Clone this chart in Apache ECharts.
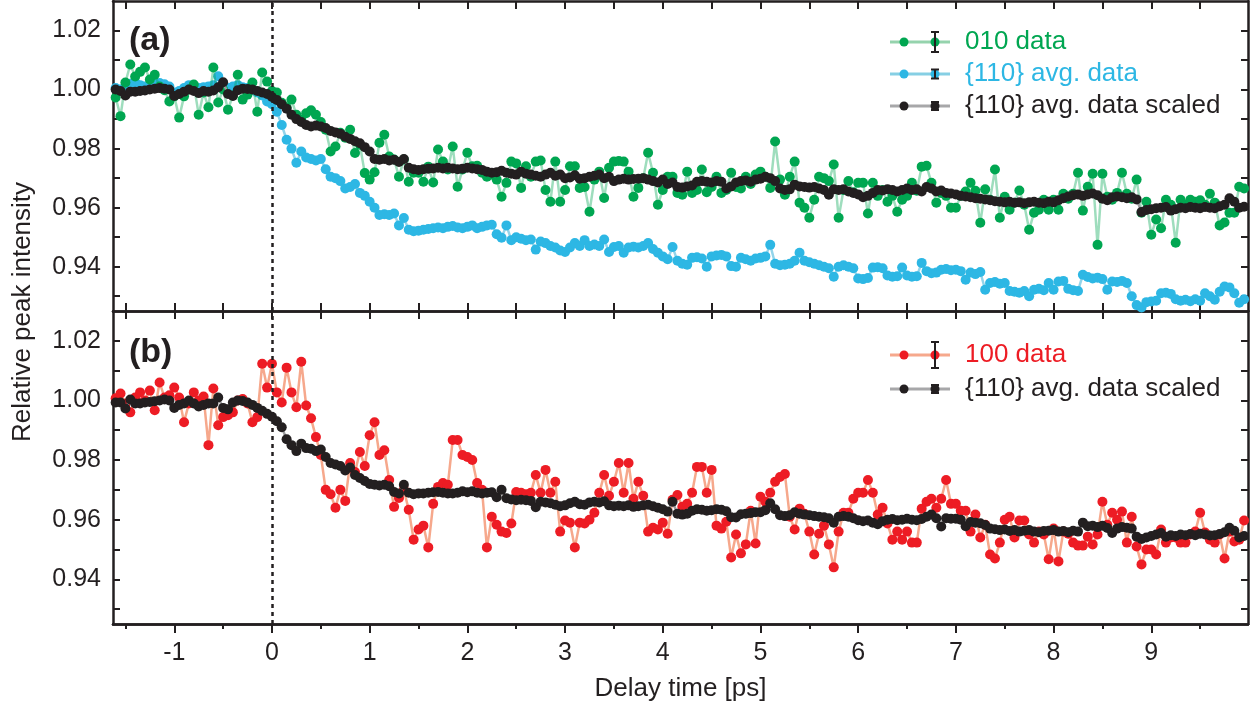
<!DOCTYPE html>
<html><head><meta charset="utf-8">
<script src="https://cdn.jsdelivr.net/npm/echarts@6/dist/echarts.min.js"></script>
<style>html,body{margin:0;padding:0;background:#fff}#c{width:1258px;height:708px}</style>
</head><body><div id="c"></div><script>
// time grid: first delay and step (ps)
const T0 = -1.6, DT = 0.05;
const xLabelTicks = [-1,0,1,2,3,4,5,6,7,8,9];
const xMinorTicks = [-1.5,-0.5,0.5,1.5,2.5,3.5,4.5,5.5,6.5,7.5,8.5,9.5];
const xAllTicks = [-1.5,-1,-0.5,0,0.5,1,1.5,2,2.5,3,3.5,4,4.5,5,5.5,6,6.5,7,7.5,8,8.5,9,9.5];
const yTicks = [0.93,0.94,0.95,0.96,0.97,0.98,0.99,1.00,1.01,1.02];
const yLabels = [0.94,0.96,0.98,1.00,1.02];

// panel (a)
const green010 = [
0.9973,0.9910,1.0024,1.0085,1.0044,1.0060,1.0075,1.0034,1.0050,1.0010,0.9998,0.9960,
0.9977,0.9905,0.9977,1.0000,1.0017,0.9915,0.9990,0.9940,1.0075,0.9956,1.0000,0.9932,0.9980,1.0050,0.9966,0.9983,1.0024,0.9925,1.0058,1.0027,
0.9995,0.9990,0.9955,0.9940,0.9966,0.9915,0.9898,0.9920,0.9930,0.9915,0.9890,0.9864,0.9790,0.9807,0.9854,0.9837,0.9864,0.9785,0.9813,0.9717,
0.9695,0.9720,0.9820,0.9847,0.9773,0.9763,0.9705,0.9763,0.9688,0.9718,0.9718,0.9688,0.9739,0.9685,0.9797,0.9756,0.9729,0.9807,0.9671,0.9729,
0.9786,0.9740,0.9742,0.9718,0.9705,0.9712,0.9695,0.9637,0.9684,0.9756,0.9750,0.9667,0.9740,0.9705,0.9756,0.9760,0.9660,0.9620,0.9756,0.9620,
0.9660,0.9740,0.9740,0.9667,0.9670,0.9586,0.9695,0.9722,0.9633,0.9735,0.9756,0.9758,0.9756,0.9722,0.9637,0.9667,0.9700,0.9786,0.9718,0.9610,
0.9660,0.9705,0.9705,0.9650,0.9644,0.9722,0.9650,0.9660,0.9729,0.9652,0.9670,0.9705,0.9650,0.9660,0.9718,0.9670,0.9665,0.9705,0.9680,0.9712,
0.9722,0.9705,0.9667,0.9824,0.9695,0.9644,0.9705,0.9756,0.9617,0.9600,0.9566,0.9627,0.9705,0.9700,0.9690,0.9746,0.9566,0.9660,0.9690,0.9652,
0.9684,0.9684,0.9580,0.9684,0.9640,0.9660,0.9620,0.9640,0.9586,0.9627,0.9640,0.9684,0.9657,0.9739,0.9742,0.9684,0.9617,0.9650,0.9640,0.9600,
0.9600,0.9640,0.9655,0.9684,0.9657,0.9549,0.9662,0.9627,0.9729,0.9566,0.9637,0.9593,0.9617,0.9658,0.9610,0.9525,0.9583,0.9593,0.9627,0.9593,
0.9627,0.9593,0.9647,0.9630,0.9647,0.9718,0.9590,0.9671,0.9715,0.9474,0.9715,0.9637,0.9627,0.9650,0.9718,0.9647,0.9630,0.9695,0.9583,0.9620,
0.9508,0.9560,0.9530,0.9627,0.9610,0.9481,0.9627,0.9610,0.9627,0.9620,0.9625,0.9610,0.9647,0.9617,0.9540,0.9550,0.9583,0.9583,0.9671,0.9665
];
const blue110 = [
1.0005,1.0000,1.0010,1.0020,1.0025,1.0015,1.0010,1.0015,1.0020,1.0022,1.0018,1.0010,
0.9990,0.9995,1.0005,1.0015,1.0012,1.0005,1.0008,1.0010,1.0015,1.0045,1.0020,1.0005,1.0010,1.0015,1.0008,1.0005,1.0000,0.9990,0.9980,0.9960,
0.9950,0.9925,0.9880,0.9830,0.9800,0.9752,0.9790,0.9770,0.9765,0.9760,0.9765,0.9730,0.9705,0.9700,0.9690,0.9665,0.9670,0.9680,0.9650,0.9640,
0.9620,0.9600,0.9575,0.9578,0.9575,0.9580,0.9540,0.9565,0.9525,0.9520,0.9522,0.9525,0.9528,0.9530,0.9533,0.9530,0.9535,0.9538,0.9533,0.9530,
0.9535,0.9540,0.9530,0.9535,0.9540,0.9542,0.9510,0.9498,0.9540,0.9490,0.9500,0.9495,0.9490,0.9492,0.9458,0.9485,0.9480,0.9470,0.9465,0.9455,
0.9450,0.9465,0.9480,0.9470,0.9490,0.9470,0.9475,0.9470,0.9492,0.9450,0.9467,0.9470,0.9447,0.9465,0.9468,0.9465,0.9470,0.9480,0.9460,0.9447,
0.9435,0.9425,0.9467,0.9420,0.9410,0.9407,0.9430,0.9432,0.9428,0.9400,0.9435,0.9438,0.9440,0.9435,0.9402,0.9400,0.9430,0.9425,0.9420,0.9428,
0.9430,0.9435,0.9474,0.9410,0.9405,0.9407,0.9410,0.9420,0.9447,0.9420,0.9415,0.9410,0.9405,0.9400,0.9395,0.9366,0.9400,0.9405,0.9400,0.9395,
0.9360,0.9358,0.9362,0.9397,0.9398,0.9395,0.9370,0.9366,0.9368,0.9397,0.9370,0.9366,0.9368,0.9413,0.9385,0.9378,0.9380,0.9390,0.9392,0.9388,
0.9390,0.9385,0.9356,0.9380,0.9375,0.9382,0.9322,0.9345,0.9348,0.9342,0.9345,0.9318,0.9315,0.9312,0.9318,0.9300,0.9322,0.9325,0.9320,0.9345,
0.9322,0.9350,0.9352,0.9325,0.9320,0.9318,0.9373,0.9365,0.9360,0.9363,0.9358,0.9322,0.9350,0.9348,0.9352,0.9345,0.9300,0.9270,0.9262,0.9280,
0.9282,0.9285,0.9310,0.9312,0.9308,0.9290,0.9285,0.9288,0.9283,0.9290,0.9285,0.9310,0.9300,0.9288,0.9315,0.9333,0.9330,0.9310,0.9278,0.9290
];
const black110a = [
1.0000,0.9995,0.9980,0.9993,0.9993,0.9995,0.9997,1.0000,1.0003,1.0005,1.0003,1.0000,
0.9978,0.9985,0.9993,1.0000,0.9995,0.9988,0.9995,0.9993,0.9997,1.0008,1.0025,0.9985,0.9978,0.9998,1.0003,1.0002,1.0000,0.9995,0.9990,0.9985,
0.9975,0.9965,0.9950,0.9935,0.9915,0.9900,0.9890,0.9880,0.9875,0.9878,0.9875,0.9870,0.9860,0.9855,0.9850,0.9840,0.9833,0.9825,0.9818,0.9805,
0.9790,0.9765,0.9762,0.9765,0.9760,0.9762,0.9755,0.9765,0.9735,0.9730,0.9728,0.9730,0.9732,0.9733,0.9735,0.9733,0.9735,0.9733,0.9730,0.9732,
0.9735,0.9733,0.9730,0.9728,0.9722,0.9718,0.9720,0.9725,0.9718,0.9715,0.9712,0.9722,0.9715,0.9712,0.9708,0.9705,0.9712,0.9718,0.9708,0.9712,
0.9700,0.9702,0.9710,0.9698,0.9700,0.9705,0.9708,0.9712,0.9700,0.9705,0.9690,0.9695,0.9698,0.9695,0.9697,0.9698,0.9700,0.9695,0.9690,0.9685,
0.9695,0.9680,0.9685,0.9670,0.9668,0.9672,0.9675,0.9688,0.9690,0.9688,0.9685,0.9690,0.9688,0.9665,0.9672,0.9685,0.9690,0.9692,0.9688,0.9695,
0.9698,0.9705,0.9700,0.9690,0.9665,0.9660,0.9662,0.9678,0.9672,0.9670,0.9668,0.9670,0.9665,0.9660,0.9644,0.9662,0.9660,0.9662,0.9655,0.9650,
0.9645,0.9635,0.9640,0.9650,0.9660,0.9658,0.9662,0.9660,0.9655,0.9660,0.9665,0.9660,0.9662,0.9655,0.9670,0.9665,0.9655,0.9658,0.9650,0.9648,
0.9645,0.9640,0.9638,0.9635,0.9632,0.9630,0.9628,0.9625,0.9622,0.9620,0.9618,0.9620,0.9617,0.9618,0.9615,0.9618,0.9620,0.9617,0.9615,0.9620,
0.9618,0.9625,0.9632,0.9638,0.9642,0.9645,0.9640,0.9645,0.9648,0.9642,0.9630,0.9625,0.9635,0.9638,0.9635,0.9632,0.9635,0.9628,0.9585,0.9592,
0.9595,0.9598,0.9600,0.9602,0.9590,0.9595,0.9600,0.9598,0.9602,0.9600,0.9598,0.9602,0.9600,0.9598,0.9605,0.9610,0.9632,0.9620,0.9600,0.9603
];
// panel (b)
const red100 = [
1.0007,1.0023,0.9990,0.9960,1.0010,1.0027,1.0000,1.0033,0.9967,1.0060,1.0010,1.0017,
1.0043,1.0010,0.9927,0.9990,1.0027,1.0000,1.0013,0.9850,1.0040,0.9917,0.9944,0.9950,0.9960,1.0000,1.0005,0.9990,0.9927,0.9944,1.0123,1.0043,
1.0123,1.0027,0.9993,1.0110,1.0027,0.9977,1.0130,0.9983,0.9940,0.9877,0.9817,0.9700,0.9685,0.9640,0.9700,0.9663,0.9790,0.9760,0.9827,0.9780,
0.9883,0.9927,0.9817,0.9833,0.9733,0.9643,0.9673,0.9700,0.9633,0.9533,0.9567,0.9580,0.9507,0.9653,0.9710,0.9723,0.9717,0.9867,0.9867,0.9817,
0.9810,0.9800,0.9723,0.9700,0.9507,0.9610,0.9583,0.9560,0.9555,0.9587,0.9693,0.9690,0.9685,0.9690,0.9750,0.9690,0.9767,0.9690,0.9727,0.9560,
0.9597,0.9590,0.9507,0.9590,0.9587,0.9600,0.9623,0.9690,0.9750,0.9680,0.9727,0.9790,0.9690,0.9790,0.9670,0.9727,0.9680,0.9560,0.9573,0.9567,
0.9590,0.9553,0.9667,0.9683,0.9643,0.9653,0.9690,0.9777,0.9777,0.9690,0.9767,0.9580,0.9570,0.9593,0.9473,0.9550,0.9487,0.9517,0.9630,0.9520,
0.9677,0.9660,0.9690,0.9727,0.9743,0.9753,0.9610,0.9567,0.9637,0.9620,0.9560,0.9483,0.9553,0.9580,0.9517,0.9440,0.9560,0.9623,0.9623,0.9670,
0.9690,0.9690,0.9733,0.9690,0.9617,0.9640,0.9587,0.9533,0.9560,0.9533,0.9560,0.9523,0.9523,0.9637,0.9660,0.9670,0.9640,0.9670,0.9733,0.9653,
0.9653,0.9630,0.9630,0.9560,0.9617,0.9540,0.9583,0.9483,0.9470,0.9523,0.9600,0.9610,0.9540,0.9597,0.9597,0.9550,0.9523,0.9560,0.9550,0.9467,
0.9570,0.9460,0.9560,0.9553,0.9523,0.9513,0.9513,0.9543,0.9517,0.9550,0.9660,0.9583,0.9623,0.9600,0.9627,0.9523,0.9610,0.9510,0.9450,0.9500,
0.9500,0.9483,0.9567,0.9523,0.9540,0.9540,0.9523,0.9523,0.9550,0.9560,0.9623,0.9557,0.9533,0.9523,0.9550,0.9470,0.9560,0.9527,0.9533,0.9597
];
const black110b = [
0.9993,0.9993,0.9973,1.0003,0.9990,0.9990,0.9993,0.9995,0.9997,1.0000,1.0003,1.0000,
0.9975,0.9985,0.9990,1.0000,0.9990,0.9980,0.9985,0.9990,0.9990,1.0010,0.9975,0.9970,0.9993,1.0000,0.9998,0.9993,0.9985,0.9975,0.9965,0.9955,
0.9945,0.9930,0.9910,0.9870,0.9850,0.9830,0.9855,0.9840,0.9838,0.9830,0.9835,0.9810,0.9790,0.9785,0.9780,0.9765,0.9775,0.9750,0.9740,0.9730,
0.9720,0.9717,0.9715,0.9717,0.9712,0.9693,0.9688,0.9717,0.9690,0.9685,0.9688,0.9688,0.9690,0.9692,0.9693,0.9690,0.9688,0.9688,0.9690,0.9695,
0.9692,0.9695,0.9690,0.9688,0.9690,0.9692,0.9675,0.9700,0.9672,0.9668,0.9665,0.9667,0.9665,0.9663,0.9642,0.9660,0.9658,0.9655,0.9650,0.9645,
0.9648,0.9655,0.9660,0.9652,0.9650,0.9658,0.9660,0.9658,0.9662,0.9648,0.9645,0.9647,0.9645,0.9648,0.9643,0.9645,0.9648,0.9650,0.9645,0.9640,
0.9635,0.9627,0.9660,0.9620,0.9617,0.9620,0.9630,0.9635,0.9633,0.9630,0.9632,0.9635,0.9633,0.9628,0.9608,0.9607,0.9618,0.9620,0.9622,0.9625,
0.9625,0.9632,0.9655,0.9635,0.9615,0.9612,0.9615,0.9625,0.9620,0.9617,0.9615,0.9612,0.9610,0.9608,0.9605,0.9590,0.9610,0.9612,0.9610,0.9605,
0.9598,0.9595,0.9597,0.9590,0.9585,0.9595,0.9600,0.9602,0.9598,0.9600,0.9603,0.9600,0.9598,0.9602,0.9610,0.9617,0.9605,0.9577,0.9605,0.9603,
0.9603,0.9600,0.9578,0.9592,0.9590,0.9588,0.9582,0.9570,0.9568,0.9565,0.9567,0.9562,0.9565,0.9560,0.9563,0.9565,0.9560,0.9558,0.9562,0.9563,
0.9565,0.9560,0.9562,0.9558,0.9563,0.9560,0.9590,0.9578,0.9580,0.9575,0.9580,0.9572,0.9555,0.9570,0.9575,0.9573,0.9570,0.9543,0.9535,0.9540,
0.9545,0.9550,0.9555,0.9543,0.9548,0.9545,0.9550,0.9548,0.9552,0.9548,0.9553,0.9550,0.9547,0.9548,0.9552,0.9558,0.9573,0.9563,0.9540,0.9545
];

const FONT = '"Liberation Sans", Arial, sans-serif';
const INK = '#231f20';
const XMIN = -1.627, XMAX = 9.99, YMIN = 0.925, YMAX = 1.03;
const pairs = arr => arr.map((v, i) => [+(T0 + DT * i).toFixed(2), v]);

const axisLine = {show: true, onZero: false, lineStyle: {color: INK, width: 2.5}};
function xAx(grid, pos, ticks, opts) {
  return Object.assign({
    type: 'value', gridIndex: grid, position: pos, min: XMIN, max: XMAX,
    axisLine: axisLine, splitLine: {show: false},
    axisTick: {show: true, inside: true, length: 8, customValues: ticks, lineStyle: {color: INK, width: 2}},
    axisLabel: {show: false}
  }, opts || {});
}
function yAx(grid, pos, labels) {
  return {
    type: 'value', gridIndex: grid, position: pos, min: YMIN, max: YMAX,
    axisLine: axisLine, splitLine: {show: false},
    axisTick: {show: true, inside: true, length: 7, customValues: yTicks, lineStyle: {color: INK, width: 2}},
    axisLabel: labels ? {show: true, customValues: yLabels, formatter: v => v.toFixed(2),
      fontSize: 25, fontFamily: FONT, color: INK, margin: 12} : {show: false}
  };
}

function lineSeries(name, data, xi, yi, dot, line, z, extra) {
  return Object.assign({
    name: name, type: 'line', xAxisIndex: xi, yAxisIndex: yi, data: pairs(data),
    symbol: 'circle', symbolSize: 10, showSymbol: true, z: z,
    itemStyle: {color: dot}, lineStyle: {color: line, width: 2.5}, animation: false
  }, extra || {});
}
const zeroLine = {
  silent: true, symbol: ['none', 'none'], label: {show: false},
  lineStyle: {color: INK, type: [4, 4], width: 2.5}, data: [{xAxis: 0}], animation: false
};

function legendRow(y, dot, line, barH, label, txt, filled) {
  const els = [
    {type: 'line', shape: {x1: 890, y1: y, x2: 950, y2: y}, style: {stroke: line, lineWidth: 3}},
    {type: 'circle', shape: {cx: 904, cy: y, r: 4.5}, style: {fill: dot}},
    {type: 'circle', shape: {cx: 935, cy: y, r: 4.5}, style: {fill: dot}},
    {type: 'line', shape: {x1: 935, y1: y - barH / 2, x2: 935, y2: y + barH / 2}, style: {stroke: INK, lineWidth: 2}},
    {type: 'line', shape: {x1: 931, y1: y - barH / 2, x2: 939, y2: y - barH / 2}, style: {stroke: INK, lineWidth: 2}},
    {type: 'line', shape: {x1: 931, y1: y + barH / 2, x2: 939, y2: y + barH / 2}, style: {stroke: INK, lineWidth: 2}},
    {type: 'text', x: 965, y: y, style: {text: label, fill: txt, font: '26px ' + FONT, verticalAlign: 'middle', align: 'left'}}
  ];
  if (filled) els.push({type: 'rect', shape: {x: 931.5, y: y - 4, width: 7, height: 8}, style: {fill: INK}});
  return els;
}

const chart = echarts.init(document.getElementById('c'), null, {renderer: 'canvas'});
chart.setOption({
  backgroundColor: '#fff',
  animation: false,
  grid: [
    {left: 113, right: 10, top: 1, height: 310, outerBoundsMode: 'none'},
    {left: 113, right: 10, top: 311, height: 313, outerBoundsMode: 'none'}
  ],
  xAxis: [
    xAx(0, 'bottom', xAllTicks),
    xAx(0, 'top', xAllTicks),
    xAx(1, 'top', xAllTicks),
    xAx(1, 'bottom', xLabelTicks, {
      axisTick: {show: true, inside: false, length: 9, customValues: xLabelTicks, lineStyle: {color: INK, width: 2}},
      axisLabel: {show: true, customValues: xLabelTicks, fontSize: 25, fontFamily: FONT, color: INK, margin: 17},
      name: 'Delay time [ps]', nameLocation: 'middle', nameGap: 52,
      nameTextStyle: {fontSize: 26, fontFamily: FONT, color: INK}
    }),
    xAx(1, 'bottom', xMinorTicks, {
      axisTick: {show: true, inside: false, length: 5, customValues: xMinorTicks, lineStyle: {color: INK, width: 2}}
    })
  ],
  yAxis: [
    yAx(0, 'left', true), yAx(0, 'right', false),
    yAx(1, 'left', true), yAx(1, 'right', false)
  ],
  series: [
    lineSeries('{110} avg. data', blue110, 0, 0, '#2db7e4', '#93d4ea', 2, {markLine: zeroLine}),
    lineSeries('010 data', green010, 0, 0, '#00a651', 'rgba(0,166,81,0.38)', 3),
    lineSeries('{110} avg. data scaled', black110a, 0, 0, INK, '#9d9d9f', 4),
    lineSeries('100 data', red100, 3, 2, '#ed1c24', '#f6a88c', 3, {markLine: zeroLine}),
    lineSeries('{110} avg. data scaled', black110b, 3, 2, INK, '#9d9d9f', 4)
  ],
  graphic: [].concat(
    [{type: 'text', x: 23, y: 312, rotation: Math.PI / 2,
      style: {text: 'Relative peak intensity', fill: INK, font: '26px ' + FONT, align: 'center', verticalAlign: 'middle'}},
     {type: 'text', x: 129, y: 41, style: {text: '(a)', fill: INK, font: 'bold 34px ' + FONT, verticalAlign: 'middle'}},
     {type: 'text', x: 129, y: 353, style: {text: '(b)', fill: INK, font: 'bold 34px ' + FONT, verticalAlign: 'middle'}}],
    legendRow(42, '#00a651', '#95d3ad', 20, '010 data', '#00a651', false),
    legendRow(74, '#2db7e4', '#86cfe4', 9, '{110} avg. data', '#2db7e4', false),
    legendRow(106, INK, '#a7a7a9', 8, '{110} avg. data scaled', INK, true),
    legendRow(355, '#ed1c24', '#f6a88c', 26, '100 data', '#ed1c24', false),
    legendRow(389, INK, '#a7a7a9', 8, '{110} avg. data scaled', INK, true)
  )
});
</script></body></html>
